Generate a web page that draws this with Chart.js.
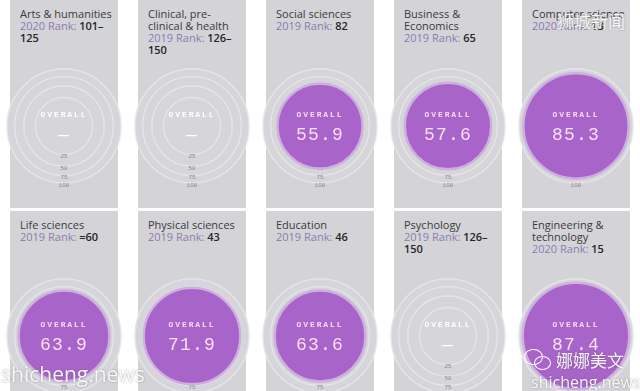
<!DOCTYPE html>
<html><head><meta charset="utf-8">
<script src="https://cdn.jsdelivr.net/npm/chart.js@4.4.1/dist/chart.umd.min.js"></script>
<style>
html,body{margin:0;padding:0;background:#fff;width:640px;height:391px;overflow:hidden;position:relative;font-family:"Open Sans",sans-serif;}
.panel{position:absolute;width:108px;background:#d4d4d8;}
.title{position:absolute;left:10px;top:8px;width:96px;font-size:11px;line-height:12px;color:#3a3a3a;z-index:3;}
.rk{color:#8d7bae;}
.rv{color:#262626;font-weight:600;}
canvas{position:absolute;z-index:1;}
.ov{position:absolute;width:90px;text-align:center;font-family:"Liberation Mono",monospace;font-size:8px;font-weight:bold;letter-spacing:1.9px;line-height:10px;z-index:2;}
.val{position:absolute;width:90px;text-align:center;font-family:"Liberation Mono",monospace;font-size:18px;letter-spacing:1.2px;line-height:20px;z-index:2;}
.wm{position:absolute;color:rgba(255,255,255,0.92);z-index:5;text-shadow:0 0 2px rgba(90,90,90,0.6);white-space:nowrap;}
</style></head>
<body>
<script>
const subjects = ["Arts & humanities","Clinical, pre-clinical & health","Social sciences","Business & Economics","Computer science","Life sciences","Physical sciences","Education","Psychology","Engineering & technology"];
const rankYears = ["2020","2019","2019","2019","2020","2019","2019","2019","2019","2020"];
const ranks = ["101–125","126–150","82","65","13","=60","43","46","126–150","15"];
const overallScores = [null,null,55.9,57.6,85.3,63.9,71.9,63.6,null,87.4];
const scaleTicks = [25,50,75,100];

class SqrtRadialScale extends Chart.RadialLinearScale {
  getDistanceFromCenterForValue(value){
    if (value === null || value === undefined || isNaN(value)) return NaN;
    const t = Math.max(0,(value - this.min)/(this.max - this.min));
    return this.drawingArea * Math.sqrt(t);
  }
  getValueForDistanceFromCenter(d){
    const t = d / this.drawingArea;
    return this.min + t*t*(this.max - this.min);
  }
  drawLabels(){
    const o = this.options.ticks;
    if (!o.display) return;
    const ctx = this.ctx;
    ctx.save();
    ctx.textAlign='center'; ctx.textBaseline='middle';
    ctx.font = (o.font.size||6)+'px '+(o.font.family||'monospace');
    ctx.fillStyle = o.color;
    this.ticks.forEach((tick,i)=>{
      if (i===0) return;
      const off = this.getDistanceFromCenterForValue(tick.value);
      ctx.fillText(tick.label, this.xCenter, this.yCenter + off + 2);
    });
    ctx.restore();
  }
}
SqrtRadialScale.id = 'sqrtRadial';
Chart.register(SqrtRadialScale);

const ringBorder = {
  id:'ringBorder',
  afterDatasetsDraw(chart){
    const ctx = chart.ctx;
    chart.getDatasetMeta(0).data.forEach(arc=>{
      const r = arc.outerRadius;
      if (!(r>0)) return;
      ctx.save(); ctx.beginPath(); ctx.arc(arc.x, arc.y, r, 0, Math.PI*2);
      ctx.strokeStyle='#cdb0df'; ctx.lineWidth=2.5; ctx.stroke(); ctx.restore();
    });
  }
};

const body = document.body;
const rowTop = [0,211], rowH=[208,200], rowCy=[126,336];
subjects.forEach((s,i)=>{
  const row = Math.floor(i/5), col = i%5;
  const px = 10 + 128*col, cx = 64 + 128*col, cy = rowCy[row];
  const p = document.createElement('div'); p.className='panel';
  p.style.left=px+'px'; p.style.top=rowTop[row]+'px'; p.style.height=rowH[row]+'px';
  body.appendChild(p);
  const t = document.createElement('div'); t.className='title';
  t.style.left=(px+10)+'px'; t.style.top=(rowTop[row]+8)+'px';
  t.innerHTML = '<div></div><div><span class="rk"></span> <span class="rv"></span></div>';
  t.children[0].textContent = s;
  t.querySelector('.rk').textContent = rankYears[i]+' Rank:';
  t.querySelector('.rv').textContent = ranks[i];
  body.appendChild(t);
  const c = document.createElement('canvas');
  c.width=124; c.height=124; c.style.left=(cx-62)+'px'; c.style.top=(cy-62)+'px';
  body.appendChild(c);
  const score = overallScores[i];
  new Chart(c,{
    type:'polarArea',
    data:{labels:['Overall'],datasets:[{data:[score],backgroundColor:'#a864c9',borderWidth:0}]},
    options:{responsive:false,animation:false,events:[],layout:{padding:0},
      plugins:{legend:{display:false},tooltip:{enabled:false}},
      scales:{r:{type:'sqrtRadial',min:0,max:scaleTicks[scaleTicks.length-1],backgroundColor:'#d6d6da',
        grid:{color:'#e5e5e8',lineWidth:1.4,circular:true},
        angleLines:{display:false},pointLabels:{display:false},
        ticks:{stepSize:scaleTicks[0],showLabelBackdrop:false,color:'#88888c',font:{family:'Liberation Mono',size:6}}}}},
    plugins:[ringBorder]
  });
  const filled = score !== null;
  const ov = document.createElement('div'); ov.className='ov'; ov.textContent='OVERALL';
  ov.style.left=(cx-45)+'px'; ov.style.top=(cy-16)+'px'; ov.style.color = filled?'#f6dcf6':'#ffffff';
  body.appendChild(ov);
  const v = document.createElement('div'); v.className='val';
  v.textContent = filled ? score.toFixed(1) : '—';
  v.style.left=(cx-45)+'px'; v.style.top=(cy-1)+'px'; v.style.color = filled?'#f8e2f8':'#ffffff';
  body.appendChild(v);
});
</script>
<div class="wm" style="left:557px;top:8px;font-size:17px;font-family:'Noto Sans CJK SC';">狮城新闻</div>
<div class="wm" style="left:1px;top:360px;font-size:21px;font-family:'Open Sans';">shicheng.news</div>
<div class="wm" style="left:524px;top:347px;width:28px;height:24px;">
  <div style="position:absolute;left:0;top:2px;width:17px;height:14px;border:1.5px solid #fff;border-radius:50%;"></div>
  <div style="position:absolute;left:10px;top:9px;width:15px;height:12px;border:1.5px solid #fff;border-radius:50%;"></div>
</div>
<div class="wm" style="left:556px;top:347px;font-size:17px;font-family:'Noto Sans CJK SC';">娜娜美文</div>
<div class="wm" style="left:531px;top:371px;font-size:16px;font-family:'Open Sans';">shicheng.news</div>
</body></html>
